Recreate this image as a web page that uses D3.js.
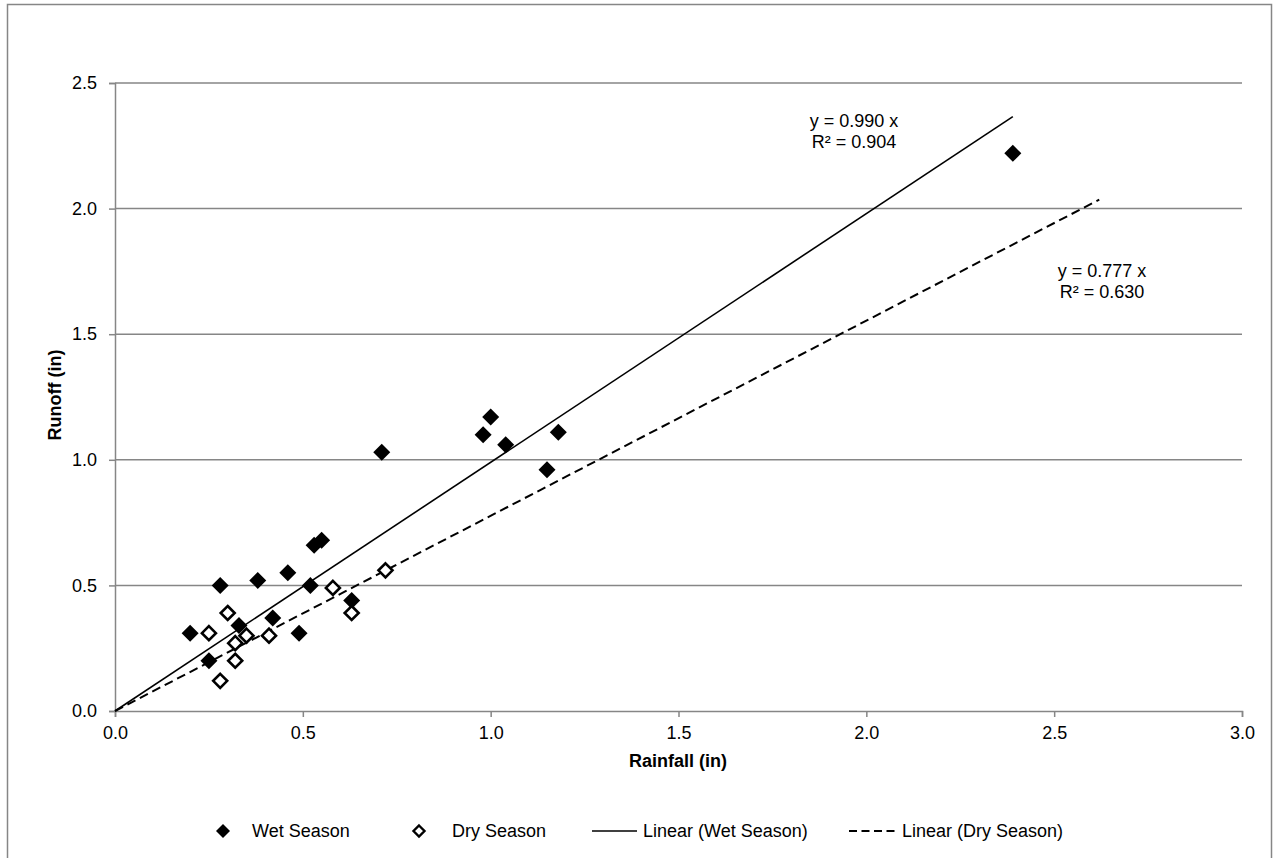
<!DOCTYPE html>
<html><head><meta charset="utf-8">
<script src="https://cdn.jsdelivr.net/npm/d3@7"></script>
<style>body{margin:0;background:#fff;}svg{display:block;font-family:"Liberation Sans",Arial,sans-serif;}</style>
</head><body>
<svg id="c" width="1273" height="858"></svg>
<script>
// ---- data ----
const wetX = [0.20,0.25,0.28,0.33,0.38,0.42,0.46,0.49,0.52,0.53,0.55,0.63,0.71,0.98,1.00,1.04,1.15,1.18,2.39];
const wetY = [0.31,0.20,0.50,0.34,0.52,0.37,0.55,0.31,0.50,0.66,0.68,0.44,1.03,1.10,1.17,1.06,0.96,1.11,2.22];
const dryX = [0.25,0.28,0.30,0.32,0.32,0.35,0.41,0.58,0.63,0.72];
const dryY = [0.31,0.12,0.39,0.27,0.20,0.30,0.30,0.49,0.39,0.56];
const trendNames = ["Linear (Wet Season)","Linear (Dry Season)"];
const trendSlopes = [0.990, 0.777];
const trendR2 = [0.904, 0.630];
const trendXEnd = [2.39, 2.62];
const xTicks = [0,0.5,1.0,1.5,2.0,2.5,3.0];
const yTicks = [0,0.5,1.0,1.5,2.0,2.5];
const seriesNames = ["Wet Season","Dry Season"];

const svg = d3.select("#c");
const W = 1273, H = 858;
const x = d3.scaleLinear().domain([0,3]).range([115,1242]);
const y = d3.scaleLinear().domain([0,2.5]).range([711,83]);
const gray = "#868686";

// outer border
svg.append("rect").attr("x",7.5).attr("y",4.5).attr("width",1264).attr("height",900)
  .attr("fill","none").attr("stroke",gray).attr("stroke-width",1.5);

// gridlines
svg.append("g").selectAll("line").data(yTicks.filter(d=>d>0)).join("line")
  .attr("x1",x(0)).attr("x2",x(3)).attr("y1",d=>y(d)).attr("y2",d=>y(d))
  .attr("stroke",gray).attr("stroke-width",1.5);

// axes
const fmt = d3.format(".1f");
const gx = svg.append("g").attr("transform",`translate(0,${y(0)})`)
  .call(d3.axisBottom(x).tickValues(xTicks).tickFormat(fmt).tickSize(6).tickPadding(9));
const gy = svg.append("g").attr("transform",`translate(${x(0)},0)`)
  .call(d3.axisLeft(y).tickValues(yTicks).tickFormat(fmt).tickSize(6).tickPadding(12));
[gx,gy].forEach(g=>{
  g.select(".domain").attr("stroke",gray).attr("stroke-width",1.5);
  g.selectAll(".tick line").attr("stroke",gray).attr("stroke-width",1.5);
  g.selectAll(".tick text").attr("fill","#000").style("font-size","18px")
   .style("font-family","'Liberation Sans',Arial,sans-serif");
});

// axis titles
svg.append("text").attr("x",678).attr("y",767).attr("text-anchor","middle")
  .style("font-size","18px").style("font-weight","bold").text("Rainfall (in)");
svg.append("text").attr("transform","translate(61,395) rotate(-90)").attr("text-anchor","middle")
  .style("font-size","18px").style("font-weight","bold").text("Runoff (in)");

// trendlines
const dashes = [null,"9,5"];
const widths = [1.6,2];
trendSlopes.forEach((m,i)=>{
  svg.append("line").attr("x1",x(0)).attr("y1",y(0))
    .attr("x2",x(trendXEnd[i])).attr("y2",y(m*trendXEnd[i]))
    .attr("stroke","#000").attr("stroke-width",widths[i])
    .attr("stroke-dasharray",dashes[i]);
});

// markers
const diamond = (cx,cy,r)=>`M${cx},${cy-r}L${cx+r},${cy}L${cx},${cy+r}L${cx-r},${cy}Z`;
svg.append("g").selectAll("path").data(wetX.map((v,i)=>[v,wetY[i]])).join("path")
  .attr("d",d=>diamond(x(d[0]),y(d[1]),8.5)).attr("fill","#000");
svg.append("g").selectAll("path").data(dryX.map((v,i)=>[v,dryY[i]])).join("path")
  .attr("d",d=>diamond(x(d[0]),y(d[1]),7)).attr("fill","#fff").attr("stroke","#000").attr("stroke-width",2.6);

// trendline labels
const labelPos = [[854,127],[1102,277]];
trendSlopes.forEach((m,i)=>{
  const t = svg.append("text").attr("text-anchor","middle").style("font-size","18px");
  t.append("tspan").attr("x",labelPos[i][0]).attr("y",labelPos[i][1]).text(`y = ${m.toFixed(3)} x`);
  t.append("tspan").attr("x",labelPos[i][0]).attr("y",labelPos[i][1]+21).text(`R² = ${trendR2[i].toFixed(3)}`);
});

// legend
const ly = 831;
const lg = svg.append("g");
lg.append("path").attr("d",diamond(223,ly,7)).attr("fill","#000");
lg.append("text").attr("x",252).attr("y",ly+6).style("font-size","18px").text(seriesNames[0]);
lg.append("path").attr("d",diamond(419,ly,5.5)).attr("fill","#fff").attr("stroke","#000").attr("stroke-width",2.4);
lg.append("text").attr("x",452).attr("y",ly+6).style("font-size","18px").text(seriesNames[1]);
lg.append("line").attr("x1",592).attr("x2",637).attr("y1",ly).attr("y2",ly).attr("stroke","#000").attr("stroke-width",1.6);
lg.append("text").attr("x",643).attr("y",ly+6).style("font-size","18px").text(trendNames[0]);
lg.append("line").attr("x1",849).attr("x2",896).attr("y1",ly).attr("y2",ly).attr("stroke","#000").attr("stroke-width",2).attr("stroke-dasharray","8,4.5");
lg.append("text").attr("x",902).attr("y",ly+6).style("font-size","18px").text(trendNames[1]);
</script>
</body></html>
